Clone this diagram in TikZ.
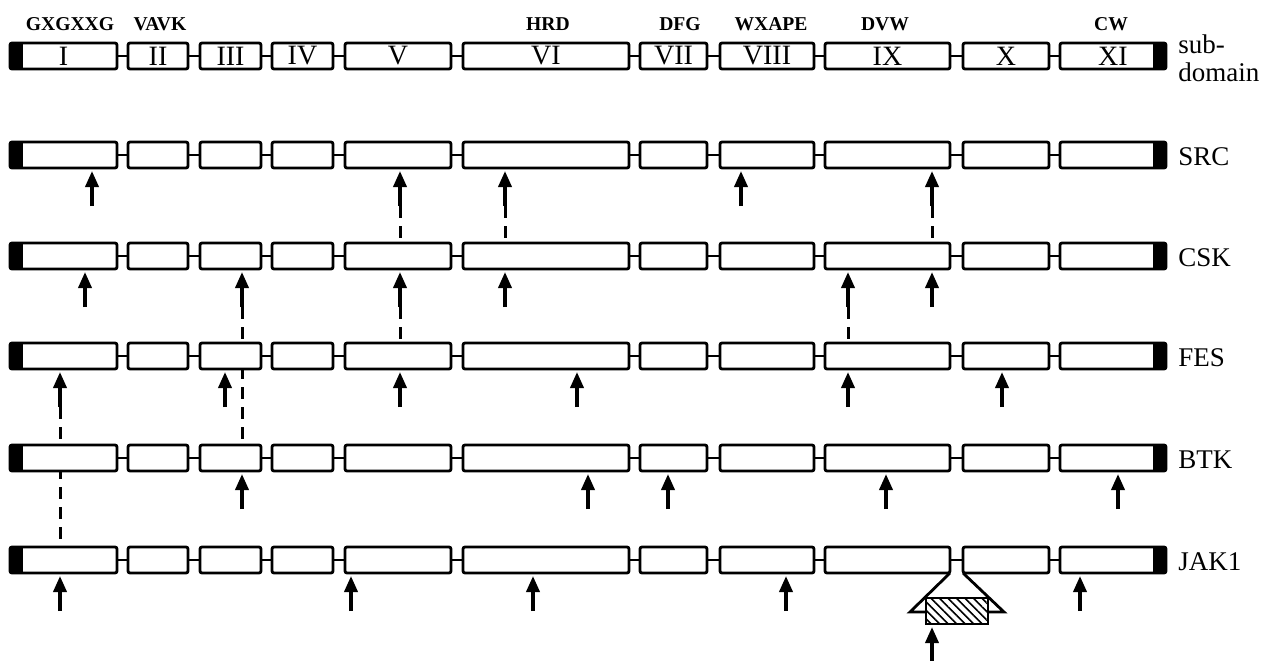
\documentclass[tikz,border=0pt]{standalone}
\usepackage{fontspec}
\setmainfont{Liberation Serif}
\usetikzlibrary{arrows.meta,patterns.meta}
\pgfdeclarelayer{bg}
\pgfsetlayers{bg,main}

% left/right edges and numeral of the eleven kinase subdomains
\def\cols{10/117/I,128/188/II,200/261/III,272/333/IV,345/451/V,463/629/VI,640/707/VII,720/814/VIII,825/950/IX,963/1049/X,1060/1166/XI}

\tikzset{
  dom/.style={draw, line width=1.4pt, rounded corners=1pt, fill=white,
    inner sep=0pt, outer sep=0pt, minimum height=13pt,
    font=\fontsize{14}{15}\selectfont},
  link/.style={line width=1.4pt},
  arr/.style={line width=1.8pt, -{Triangle[length=8pt,width=6.5pt]}, shorten >=1.5pt},
  dsh/.style={line width=1.5pt, dash pattern=on 6pt off 4pt},
  motif/.style={font=\bfseries\fontsize{9.8}{11}\selectfont},
  rowlab/.style={anchor=west, inner sep=0pt, font=\fontsize{13.5}{14}\selectfont},
  hatchbox/.style={draw, line width=1.4pt, inner sep=0pt, outer sep=0pt,
    minimum width=31pt, minimum height=13pt, preaction={fill=white},
    pattern={Lines[angle=-45,distance=3pt,line width=0.8pt]}}
}

% one row of subdomain boxes: #1 name prefix, #2 centre y, #3 numerals shown (1/0)
\newcommand\domrow[3]{%
  \foreach \l/\r/\n [count=\i] in \cols {
    \node[dom, minimum width={(\r-\l)*0.5pt}] (#1\i) at ({(\l+\r)/2},#2) {\ifnum#3=1 \n\fi};
  }
  \foreach \i [evaluate=\i as \j using int(\i+1)] in {1,...,10} {
    \draw[link] (#1\i.east) -- (#1\j.west);
  }
  \fill (#11.north west) rectangle ([xshift=6.5pt]#11.south west);
  \fill ([xshift=-6.5pt]#111.north east) rectangle (#111.south east);
}

% insertion arrow: #1 name, #2 x, #3 row centre y, #4 target box
\newcommand\mut[4]{%
  \coordinate (#1) at (#2,#3+51);
  \draw[arr] (#1) -- (#1 |- #4.south);
}

\begin{document}
\begin{tikzpicture}[x=0.5pt,y=-0.5pt]
\useasboundingbox (0,0) rectangle (1266,660);

% conserved motifs
\node[motif] (mI)    at (70,24)   {GXGXXG};
\node[motif] (mII)   at (160,24)  {VAVK};
\node[motif] (mVI)   at (548,24)  {HRD};
\node[motif] (mVII)  at (680,24)  {DFG};
\node[motif] (mVIII) at (771,24)  {WXAPE};
\node[motif] (mIX)   at (885,24)  {DVW};
\node[motif] (mXI)   at (1111,24) {CW};

% rows
\domrow{t}{56}{1}
\domrow{src}{155}{0}
\domrow{csk}{256}{0}
\domrow{fes}{356}{0}
\domrow{btk}{458}{0}
\domrow{jak}{560}{0}

\node[rowlab, align=left] (lsub) at (1178,58) {sub-\\domain};
\node[rowlab] (lsrc) at (1178,157) {SRC};
\node[rowlab] (lcsk) at (1178,258) {CSK};
\node[rowlab] (lfes) at (1178,358) {FES};
\node[rowlab] (lbtk) at (1178,460) {BTK};
\node[rowlab] (ljak) at (1178,562) {JAK1};

% SRC
\mut{s1}{92}{155}{src1}
\mut{s5}{400}{155}{src5}
\mut{s6}{505}{155}{src6}
\mut{s8}{741}{155}{src8}
\mut{s9}{932}{155}{src9}
% CSK
\mut{c1}{85}{256}{csk1}
\mut{c3}{242}{256}{csk3}
\mut{c5}{400}{256}{csk5}
\mut{c6}{505}{256}{csk6}
\mut{c9a}{848}{256}{csk9}
\mut{c9b}{932}{256}{csk9}
% FES
\mut{f1}{60}{356}{fes1}
\mut{f3}{225}{356}{fes3}
\mut{f5}{400}{356}{fes5}
\mut{f6}{577}{356}{fes6}
\mut{f9}{848}{356}{fes9}
\mut{f10}{1002}{356}{fes10}
% BTK
\mut{b3}{242}{458}{btk3}
\mut{b6}{588}{458}{btk6}
\mut{b7}{668}{458}{btk7}
\mut{b9}{886}{458}{btk9}
\mut{b11}{1118}{458}{btk11}
% JAK1
\mut{j1}{60}{560}{jak1}
\mut{j5}{351}{560}{jak5}
\mut{j6}{533}{560}{jak6}
\mut{j8}{786}{560}{jak8}
\mut{j11}{1080}{560}{jak11}

% links between equivalent positions
\begin{pgfonlayer}{bg}
  \draw[dsh] (s5) -- (s5 |- csk5.north);
  \draw[dsh] (s6) -- (s6 |- csk6.north);
  \draw[dsh] (s9) -- (s9 |- csk9.north);
  \draw[dsh] (c3) -- (c3 |- btk3.north);
  \draw[dsh] (c5) -- (c5 |- fes5.north);
  \draw[dsh] (c9a) -- (c9a |- fes9.north);
  \draw[dsh] (f1) -- (f1 |- jak1.north);
\end{pgfonlayer}

% JAK1 insert between IX and X
\draw[link, line join=miter] (jak9.south east) -- (910,612) -- (1004,612) -- (jak10.south west);
\node[hatchbox] (ins) at (957,611) {};
\coordinate (jins) at (932,662);
\draw[arr] (jins) -- (jins |- ins.south);
\end{tikzpicture}
\end{document}
